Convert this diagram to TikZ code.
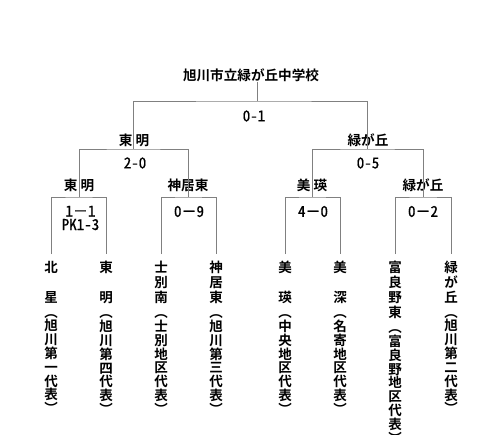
\documentclass[tikz,border=0pt]{standalone}
\usepackage{fontspec}
\usetikzlibrary{positioning}
\newfontfamily\jp{Noto Sans CJK JP}[BoldFont={Noto Sans CJK JP Bold}]
\newfontfamily\jpnum{Noto Sans CJK JP}[CharacterWidth=Half,FakeBold=0.8]
\newfontfamily\jpwide{Noto Sans CJK JP}[FakeBold=0.8]
\newcommand\zdash{{\jpwide －}}
% vertical column: one character per line
\newcommand\tate[1]{\tateloop#1\endtate}
\def\tateloop#1#2\endtate{#1\ifx\relax#2\relax\else\\\tateloop#2\endtate\fi}

\begin{document}
\begin{tikzpicture}[x=1pt,y=-1pt,
  line/.style={draw=gray,line width=0.8pt},
  win/.style={font=\jp\bfseries\fontsize{13.6}{13.6}\selectfont,inner sep=0pt},
  score/.style={font=\jpnum\fontsize{15}{13.5}\selectfont,inner sep=0pt,align=center},
  team/.style={font=\jp\bfseries\fontsize{13.5}{15}\selectfont,align=center,inner xsep=0pt,inner ysep=7pt,anchor=north},
  dist/.style={font=\jp\bfseries\fontsize{13.5}{13.8}\selectfont,align=center,inner sep=0pt}]
  \useasboundingbox (0,0) rectangle (500,434);

  \node[win] (top) at (251,75) {旭川市立緑が丘中学校};
  \coordinate (j0) at (257,101);
  \coordinate (j1) at (133,149);
  \coordinate (j2) at (367,149);
  \coordinate (q1) at (79,197);
  \coordinate (q2) at (188,197);
  \coordinate (q3) at (312,197);
  \coordinate (q4) at (423,197);

  \node[win] (w1) at (134,140) {東 明};
  \node[win] (w2) at (368,140) {緑が丘};
  \node[win] (w3) at (79,185) {東 明};
  \node[win] (w4) at (188,185) {神居東};
  \node[win] (w5) at (312,185) {美 瑛};
  \node[win] (w6) at (423,185) {緑が丘};

  \node[score] (s0) at (254,116) {0-1};
  \node[score] (s1) at (135,163) {2-0};
  \node[score] (s2) at (368,163) {0-5};
  \node[score] (s3) at (80.5,218) {1\zdash1\\PK1-3};
  \node[score] (s4) at (189,211.5) {0\zdash9};
  \node[score] (s5) at (313,211.5) {4\zdash0};
  \node[score] (s6) at (423,211.5) {0\zdash2};

  \node[team] (t1) at (51,254) {\tate{北　星}};
  \node[team] (t2) at (106,254) {\tate{東　明}};
  \node[team] (t3) at (161,254) {\tate{士別南}};
  \node[team] (t4) at (216,254) {\tate{神居東}};
  \node[team] (t5) at (285,254) {\tate{美　瑛}};
  \node[team] (t6) at (340,254) {\tate{美　深}};
  \node[team] (t7) at (395,254) {\tate{富良野東}};
  \node[team] (t8) at (451,254) {\tate{緑が丘}};

  \node[dist,below=3.5pt of t1] (d1) {\tate{︵旭川第一代表︶}};
  \node[dist,below=3.5pt of t2] (d2) {\tate{︵旭川第四代表︶}};
  \node[dist,below=3.5pt of t3] (d3) {\tate{︵士別地区代表︶}};
  \node[dist,below=3.5pt of t4] (d4) {\tate{︵旭川第三代表︶}};
  \node[dist,below=3.5pt of t5] (d5) {\tate{︵中央地区代表︶}};
  \node[dist,below=3.5pt of t6] (d6) {\tate{︵名寄地区代表︶}};
  \node[dist,below=3.5pt of t7] (d7) {\tate{︵富良野地区代表︶}};
  \node[dist,below=3.5pt of t8] (d8) {\tate{︵旭川第二代表︶}};

  \draw[line] (top.south -| j0) -- (j0);
  \draw[line] (j1) |- (j0) -| (j2);
  \draw[line] (q1) |- (j1) -| (q2);
  \draw[line] (q3) |- (j2) -| (q4);
  \draw[line] (t1) |- (q1) -| (t2);
  \draw[line] (t3) |- (q2) -| (t4);
  \draw[line] (t5) |- (q3) -| (t6);
  \draw[line] (t7) |- (q4) -| (t8);
\end{tikzpicture}
\end{document}
